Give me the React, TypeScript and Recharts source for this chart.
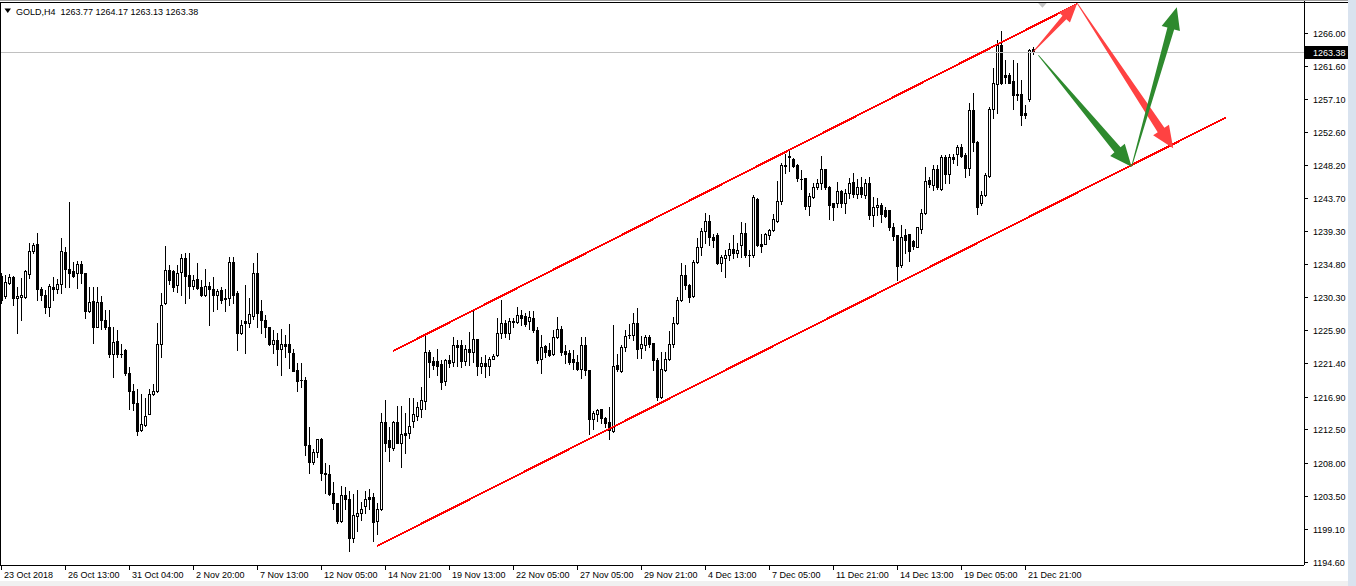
import React from 'react';
import { ComposedChart, Bar, XAxis, YAxis, ReferenceLine, ReferenceDot } from 'recharts';

// GOLD H4 candles: [open, high, low, close]
const ohlc: [number, number, number, number][] = [
  [1233.2, 1233.6, 1229.5, 1229.95], [1230.5, 1233.3, 1230.2, 1232.35], [1232.3, 1233.4, 1232.1, 1233.0], [1233.0, 1233.2, 1229.3, 1230.2],
  [1230.2, 1231.75, 1225.45, 1230.5], [1230.3, 1232.9, 1227.25, 1230.6], [1230.3, 1234.0, 1230.2, 1233.8], [1233.45, 1237.7, 1232.9, 1236.55],
  [1236.55, 1237.7, 1236.3, 1237.4], [1237.5, 1239.0, 1229.95, 1231.5], [1231.5, 1231.75, 1229.95, 1230.6], [1230.6, 1231.3, 1228.15, 1229.05],
  [1229.05, 1232.1, 1227.85, 1231.85], [1231.65, 1233.0, 1229.95, 1231.5], [1231.5, 1232.75, 1230.85, 1232.1], [1232.1, 1238.3, 1230.85, 1236.55],
  [1236.4, 1237.15, 1231.75, 1234.2], [1234.2, 1243.15, 1231.75, 1233.65], [1233.8, 1235.1, 1233.0, 1233.2], [1233.55, 1235.2, 1231.6, 1234.8],
  [1234.8, 1235.2, 1232.2, 1233.55], [1233.55, 1233.6, 1227.5, 1228.4], [1228.4, 1231.75, 1228.3, 1229.7], [1229.8, 1231.75, 1224.1, 1226.35],
  [1226.35, 1231.75, 1226.3, 1229.7], [1229.7, 1230.5, 1226.1, 1227.25], [1227.25, 1228.6, 1226.1, 1226.25], [1226.35, 1228.6, 1222.3, 1222.65],
  [1222.65, 1226.35, 1219.6, 1224.25], [1224.4, 1225.9, 1222.3, 1222.65], [1222.7, 1224.0, 1222.3, 1222.6], [1223.2, 1223.3, 1219.8, 1220.05],
  [1220.15, 1220.95, 1215.3, 1217.6], [1217.65, 1218.55, 1215.1, 1216.0], [1216.0, 1217.9, 1211.7, 1212.3], [1212.4, 1217.2, 1212.2, 1213.15],
  [1213.1, 1216.7, 1213.0, 1214.3], [1214.55, 1217.9, 1214.5, 1217.25], [1217.2, 1218.55, 1217.1, 1217.65], [1217.6, 1226.8, 1217.5, 1224.0],
  [1224.0, 1230.85, 1222.3, 1229.3], [1229.5, 1237.25, 1229.4, 1234.0], [1234.0, 1234.7, 1232.1, 1232.65], [1233.8, 1234.0, 1231.1, 1231.75],
  [1232.0, 1234.7, 1231.0, 1233.55], [1233.7, 1236.2, 1230.6, 1235.6], [1235.6, 1236.25, 1229.5, 1233.25], [1233.3, 1236.25, 1230.2, 1231.9],
  [1231.9, 1233.3, 1231.5, 1232.65], [1232.75, 1234.9, 1231.5, 1231.6], [1231.75, 1232.65, 1230.5, 1230.6], [1230.6, 1234.2, 1230.55, 1231.85],
  [1231.85, 1232.4, 1226.6, 1231.5], [1231.5, 1233.1, 1228.5, 1230.6], [1230.6, 1231.5, 1228.7, 1231.2], [1231.3, 1231.75, 1229.5, 1229.95],
  [1230.2, 1231.5, 1228.4, 1230.1], [1230.2, 1235.7, 1229.3, 1235.1], [1235.1, 1235.8, 1229.5, 1230.6], [1230.85, 1231.2, 1223.2, 1225.55],
  [1225.55, 1227.2, 1225.35, 1226.6], [1227.1, 1231.95, 1222.75, 1226.8], [1226.8, 1230.2, 1226.35, 1228.1], [1227.8, 1234.9, 1227.35, 1233.55],
  [1233.55, 1236.25, 1226.25, 1228.25], [1228.4, 1229.95, 1225.55, 1227.25], [1227.25, 1227.95, 1225.0, 1226.35], [1226.25, 1226.3, 1223.9, 1223.95],
  [1223.95, 1225.9, 1222.75, 1224.55], [1224.55, 1225.45, 1221.2, 1223.3], [1223.3, 1226.1, 1219.8, 1223.95], [1223.95, 1225.2, 1222.3, 1223.75],
  [1223.95, 1226.7, 1220.8, 1222.95], [1222.75, 1223.3, 1220.3, 1220.4], [1220.5, 1221.5, 1217.6, 1219.05], [1219.15, 1221.5, 1218.25, 1219.1],
  [1219.15, 1219.6, 1209.0, 1210.4], [1210.4, 1212.75, 1206.55, 1208.1], [1208.1, 1209.9, 1207.8, 1209.4], [1209.4, 1211.2, 1208.7, 1211.15],
  [1211.15, 1211.3, 1205.65, 1206.55], [1206.55, 1207.9, 1203.85, 1206.4], [1206.45, 1207.7, 1203.65, 1203.75], [1203.85, 1205.4, 1201.8, 1202.5],
  [1202.5, 1202.55, 1199.9, 1200.1], [1200.1, 1204.85, 1200.0, 1203.65], [1203.65, 1204.75, 1201.8, 1203.1], [1203.1, 1204.2, 1196.1, 1197.85],
  [1197.85, 1203.75, 1197.3, 1200.9], [1200.8, 1204.3, 1198.8, 1201.25], [1201.15, 1202.7, 1200.25, 1201.8], [1202.2, 1204.2, 1201.25, 1203.1],
  [1203.4, 1204.5, 1201.8, 1203.1], [1203.4, 1203.85, 1197.45, 1200.0], [1200.15, 1202.6, 1198.4, 1201.7], [1201.7, 1214.75, 1201.6, 1213.5],
  [1213.5, 1216.45, 1209.5, 1210.7], [1211.05, 1212.85, 1208.15, 1210.1], [1210.0, 1213.55, 1209.7, 1213.45], [1213.45, 1215.7, 1210.6, 1210.7],
  [1210.7, 1215.7, 1207.45, 1211.8], [1211.95, 1214.65, 1209.25, 1211.7], [1211.95, 1216.7, 1211.3, 1212.95], [1213.55, 1216.7, 1212.85, 1214.5],
  [1214.3, 1216.2, 1213.75, 1215.45], [1215.3, 1218.25, 1214.1, 1216.45], [1216.35, 1225.2, 1215.3, 1222.95], [1222.95, 1223.2, 1219.5, 1221.6],
  [1221.75, 1222.3, 1220.7, 1221.2], [1221.75, 1223.4, 1219.8, 1221.1], [1221.3, 1221.85, 1217.9, 1218.9], [1219.05, 1222.05, 1218.5, 1221.85],
  [1221.85, 1222.5, 1220.95, 1221.5], [1221.6, 1225.0, 1221.05, 1223.85], [1223.85, 1224.55, 1221.05, 1223.65], [1223.85, 1224.55, 1220.95, 1221.75],
  [1221.75, 1223.85, 1221.2, 1223.3], [1223.3, 1225.65, 1221.2, 1222.95], [1222.95, 1228.4, 1221.6, 1224.65], [1224.65, 1224.7, 1219.8, 1221.1],
  [1221.1, 1222.3, 1220.05, 1221.5], [1221.5, 1222.5, 1219.5, 1221.1], [1221.1, 1222.3, 1219.8, 1222.05], [1222.05, 1222.6, 1222.0, 1222.45],
  [1222.5, 1227.5, 1222.45, 1225.55], [1225.55, 1229.95, 1224.8, 1226.8], [1226.9, 1227.25, 1225.0, 1225.55], [1225.55, 1227.5, 1224.65, 1227.05],
  [1226.95, 1227.5, 1226.35, 1227.1], [1226.95, 1229.05, 1226.8, 1227.95], [1227.95, 1228.6, 1226.6, 1227.55], [1227.8, 1228.15, 1226.45, 1226.7],
  [1227.15, 1228.4, 1226.1, 1227.6], [1227.5, 1228.4, 1225.65, 1225.9], [1225.9, 1226.35, 1221.4, 1221.85], [1221.95, 1225.2, 1220.15, 1223.55],
  [1223.75, 1223.85, 1222.3, 1222.95], [1223.2, 1224.1, 1222.4, 1222.5], [1222.6, 1225.9, 1222.5, 1224.9], [1224.9, 1227.7, 1224.8, 1226.0],
  [1226.0, 1226.45, 1222.5, 1222.95], [1223.1, 1223.85, 1221.5, 1222.65], [1222.85, 1223.2, 1221.3, 1221.6], [1222.05, 1223.2, 1220.7, 1221.6],
  [1221.6, 1222.5, 1220.5, 1220.6], [1220.6, 1225.0, 1219.4, 1223.85], [1223.85, 1225.0, 1219.8, 1220.5], [1220.5, 1220.55, 1211.85, 1213.85],
  [1213.85, 1214.9, 1212.5, 1214.65], [1214.55, 1215.3, 1213.65, 1215.1], [1215.2, 1215.3, 1213.3, 1214.0], [1214.0, 1214.2, 1212.85, 1213.4],
  [1213.5, 1215.45, 1211.15, 1212.4], [1212.2, 1226.6, 1212.1, 1221.05], [1221.2, 1222.65, 1220.4, 1220.6], [1220.3, 1223.9, 1220.2, 1223.55],
  [1223.55, 1225.9, 1223.1, 1225.15], [1225.2, 1226.7, 1224.8, 1225.25], [1225.2, 1228.15, 1224.55, 1226.8], [1226.8, 1228.9, 1222.1, 1223.3],
  [1223.45, 1225.1, 1222.1, 1223.95], [1223.9, 1225.2, 1223.2, 1225.0], [1225.0, 1225.2, 1223.65, 1223.95], [1224.1, 1224.2, 1220.5, 1221.85],
  [1221.85, 1222.1, 1216.45, 1216.9], [1216.9, 1222.95, 1216.7, 1220.6], [1220.5, 1222.95, 1220.3, 1221.95], [1221.95, 1225.75, 1221.85, 1223.95],
  [1223.95, 1227.6, 1223.65, 1226.8], [1226.8, 1230.4, 1226.7, 1229.95], [1229.95, 1234.9, 1229.85, 1233.3], [1233.3, 1234.7, 1231.5, 1231.95],
  [1231.95, 1232.05, 1229.7, 1230.3], [1230.55, 1235.35, 1230.4, 1235.05], [1235.05, 1238.3, 1234.9, 1237.05], [1237.05, 1239.65, 1236.05, 1239.2],
  [1239.2, 1241.75, 1237.6, 1240.6], [1240.6, 1241.4, 1237.4, 1238.4], [1238.5, 1238.8, 1237.15, 1238.05], [1238.75, 1238.95, 1234.8, 1234.9],
  [1234.9, 1236.05, 1233.9, 1235.7], [1235.6, 1236.7, 1233.1, 1236.05], [1236.05, 1237.6, 1235.35, 1236.8], [1236.8, 1238.7, 1235.6, 1236.35],
  [1236.35, 1237.6, 1235.8, 1236.7], [1237.4, 1240.5, 1235.8, 1238.95], [1238.95, 1240.3, 1235.8, 1236.05], [1236.05, 1236.7, 1234.55, 1236.0],
  [1236.0, 1244.1, 1235.8, 1243.8], [1243.6, 1243.7, 1237.25, 1237.4], [1237.5, 1238.8, 1236.4, 1237.3], [1237.5, 1238.95, 1237.45, 1238.9],
  [1238.7, 1239.6, 1238.15, 1239.4], [1239.4, 1241.6, 1239.3, 1240.85], [1240.65, 1246.05, 1240.5, 1243.35], [1243.35, 1248.4, 1242.9, 1248.2],
  [1248.2, 1249.65, 1247.05, 1248.1], [1249.45, 1250.1, 1247.4, 1249.3], [1248.95, 1249.1, 1247.95, 1248.05], [1248.2, 1248.25, 1245.95, 1246.4],
  [1246.35, 1247.5, 1245.0, 1246.25], [1246.4, 1246.45, 1242.2, 1242.65], [1242.65, 1244.35, 1241.4, 1244.0], [1243.9, 1245.7, 1243.7, 1245.15],
  [1245.15, 1246.25, 1244.9, 1245.8], [1245.7, 1249.4, 1245.0, 1247.6], [1247.6, 1247.7, 1245.0, 1245.25], [1245.25, 1245.3, 1240.95, 1242.8],
  [1243.0, 1243.1, 1240.75, 1242.55], [1243.0, 1245.9, 1242.55, 1244.65], [1244.65, 1244.8, 1242.55, 1243.0], [1243.0, 1245.0, 1241.75, 1244.45],
  [1244.35, 1246.4, 1243.7, 1245.8], [1245.9, 1247.05, 1243.9, 1244.25], [1244.25, 1246.25, 1243.7, 1245.25], [1245.25, 1246.6, 1243.9, 1244.25],
  [1244.1, 1246.25, 1243.7, 1245.8], [1245.8, 1246.6, 1240.95, 1241.45], [1241.45, 1243.9, 1239.95, 1242.55], [1242.45, 1243.7, 1241.45, 1242.8],
  [1242.8, 1243.0, 1240.5, 1241.6], [1242.1, 1242.55, 1241.1, 1241.3], [1242.1, 1242.15, 1239.4, 1239.75], [1239.75, 1240.3, 1238.05, 1238.6],
  [1238.7, 1238.75, 1232.65, 1234.55], [1234.7, 1240.1, 1234.45, 1238.5], [1238.7, 1239.5, 1236.25, 1238.05], [1238.8, 1238.85, 1235.25, 1236.5],
  [1237.85, 1238.05, 1236.9, 1237.3], [1237.15, 1239.85, 1237.1, 1239.75], [1239.6, 1242.3, 1239.05, 1241.65], [1241.65, 1247.95, 1241.6, 1246.0],
  [1246.15, 1246.6, 1245.25, 1245.55], [1245.45, 1248.2, 1244.8, 1247.7], [1247.7, 1248.2, 1245.0, 1245.25], [1245.0, 1249.5, 1244.8, 1249.3],
  [1249.3, 1249.5, 1245.7, 1246.9], [1246.9, 1249.65, 1245.7, 1249.3], [1249.3, 1249.65, 1248.4, 1248.95], [1249.65, 1250.9, 1248.2, 1250.65],
  [1250.65, 1251.0, 1249.3, 1249.4], [1249.5, 1249.75, 1246.5, 1247.75], [1247.75, 1256.5, 1246.8, 1255.6], [1255.6, 1257.95, 1250.0, 1251.3],
  [1251.3, 1251.35, 1241.5, 1242.55], [1243.0, 1244.6, 1242.8, 1244.1], [1244.1, 1247.05, 1244.0, 1246.8], [1246.7, 1255.95, 1246.6, 1255.7],
  [1255.7, 1261.25, 1254.5, 1259.2], [1259.1, 1265.05, 1255.15, 1264.4], [1264.4, 1266.2, 1259.1, 1259.2], [1260.35, 1262.35, 1259.2, 1260.1],
  [1260.35, 1260.55, 1259.2, 1259.3], [1259.45, 1262.35, 1255.8, 1257.65], [1257.7, 1261.95, 1256.95, 1257.6], [1257.75, 1259.65, 1253.55, 1254.9],
  [1255.15, 1256.3, 1254.5, 1254.95], [1257.1, 1263.9, 1256.75, 1263.7], [1263.77, 1264.17, 1263.13, 1263.38],
];

const timeLabels = [
  '23 Oct 2018', '26 Oct 13:00', '31 Oct 04:00', '2 Nov 20:00', '7 Nov 13:00', '12 Nov 05:00', '14 Nov 21:00',
  '19 Nov 13:00', '22 Nov 05:00', '27 Nov 05:00', '29 Nov 21:00', '4 Dec 13:00', '7 Dec 05:00', '11 Dec 21:00',
  '14 Dec 13:00', '19 Dec 05:00', '21 Dec 21:00',
];
const barsPerLabel = 16;

const priceTicks = [
  1266.0, 1261.6, 1257.1, 1252.6, 1248.2, 1243.7, 1239.3, 1234.8, 1230.3,
  1225.9, 1221.4, 1216.9, 1212.5, 1208.0, 1203.5, 1199.1, 1194.6,
];

const headerText = 'GOLD,H4  1263.77 1264.17 1263.13 1263.38';
const lastPrice = 1263.38;

// channel lines: [bar index, price]
const upperChannel: [number, number][] = [[97.8, 1223.07], [268.75, 1269.91]];
const lowerChannel: [number, number][] = [[93.8, 1196.74], [306.0, 1254.6]];

// forecast arrows
const arrowFrom: [number, number][] = [[257.8, 1263.47], [268.8, 1270.0], [259.1, 1263.0], [282.4, 1247.95]];
const arrowTo: [number, number][] = [[268.8, 1270.0], [292.8, 1250.43], [282.4, 1247.95], [293.7, 1269.46]];
const arrowColor = ['#ff4242', '#ff4242', '#2e8a2e', '#2e8a2e'];
const arrowSize = [
  { head: 19, half: 7.5, neck: 2.6 },
  { head: 22, half: 9.5, neck: 4 },
  { head: 22, half: 9.5, neck: 4 },
  { head: 22, half: 9.5, neck: 3.5 },
];

const TOTAL_SLOTS = 326;
const PRICE_MIN = 1194.175;
const PRICE_MAX = 1270.45;

const data = Array.from({ length: TOTAL_SLOTS }, (_, i) => {
  const c = ohlc[i];
  return c
    ? { i, o: c[0], h: c[1], l: c[2], c: c[3], range: [c[2], c[1]] }
    : { i, o: null, h: null, l: null, c: null, range: null };
});

const timeTicks = timeLabels.map((_, k) => k * barsPerLabel);
const FONT = '"Liberation Sans", Arial, sans-serif';

const Candle = (props: any) => {
  let { x, y, width, height, payload } = props;
  if (!payload || payload.o == null || !isFinite(y) || !isFinite(x)) return <g />;
  const { o, h, l, c } = payload;
  if (height < 0) { y += height; height = -height; }
  const span = h - l;
  const toY = (v: number) => (span > 0 ? y + ((h - v) / span) * height : y);
  const wc = Math.round(x + width / 2 - 1);
  const yH = Math.round(y);
  const yL = Math.round(y + height);
  const yO = Math.round(toY(o));
  const yC = Math.round(toY(c));
  const top = Math.min(yO, yC);
  const bot = Math.max(yO, yC);
  const bull = c >= o;
  return (
    <g>
      <rect x={wc} y={yH} width={1} height={Math.max(1, yL - yH + 1)} fill="#000" />
      <rect x={wc - 1} y={top} width={3} height={bot - top + 1} fill="#000" />
      {bull && bot - top >= 2 && <rect x={wc} y={top + 1} width={1} height={bot - top - 1} fill="#fff" />}
    </g>
  );
};

const TimeTick = (props: any) => {
  const { x, y, payload } = props;
  const label = timeLabels[Math.round(payload.value / barsPerLabel)];
  const tx = Math.round(x) - 0.5;
  return (
    <g>
      <line x1={tx} x2={tx} y1={y} y2={y + 5} stroke="#000" strokeWidth={1} />
      <text x={tx + 2.5} y={y + 13} fontSize={9} fontFamily={FONT} fill="#000">{label}</text>
    </g>
  );
};

const PriceTick = (props: any) => {
  const { x, y, payload } = props;
  const ty = Math.round(y) + 0.5;
  return (
    <g>
      <line x1={x} x2={x + 4} y1={ty} y2={ty} stroke="#000" strokeWidth={1} />
      <text x={x + 9} y={ty} dy="0.35em" fontSize={9} fontFamily={FONT} fill="#000">
        {Number(payload.value).toFixed(2)}
      </text>
    </g>
  );
};

const LastPriceLabel = (props: any) => {
  const vb = props.viewBox || {};
  const x = (vb.x || 0) + (vb.width || 0);
  const y = Math.round(vb.y || 0);
  return (
    <g>
      <rect x={x + 1} y={y - 6} width={43} height={13} fill="#000" />
      <text x={x + 9} y={y + 0.5} dy="0.35em" fontSize={9} fontFamily={FONT} fill="#fff">
        {lastPrice.toFixed(2)}
      </text>
    </g>
  );
};

const renderArrow = (p: any, k: number) => {
  const { x1, y1, x2, y2 } = p;
  if (![x1, y1, x2, y2].every((v) => isFinite(v))) return <g />;
  const s = arrowSize[k];
  const dx = x2 - x1;
  const dy = y2 - y1;
  const len = Math.sqrt(dx * dx + dy * dy) || 1;
  const ux = dx / len;
  const uy = dy / len;
  const nx = -uy;
  const ny = ux;
  const bx = x2 - ux * s.head;
  const by = y2 - uy * s.head;
  const tail = 0.4;
  const pts = [
    [x1 + nx * tail, y1 + ny * tail],
    [bx + nx * s.neck, by + ny * s.neck],
    [bx + nx * s.half, by + ny * s.half],
    [x2, y2],
    [bx - nx * s.half, by - ny * s.half],
    [bx - nx * s.neck, by - ny * s.neck],
    [x1 - nx * tail, y1 - ny * tail],
  ];
  return <polygon points={pts.map((q) => q.join(',')).join(' ')} fill={arrowColor[k]} />;
};

export default function App() {
  return (
    <div style={{ position: 'absolute', left: 0, top: 0, width: 1356, height: 586, background: '#fff', overflow: 'hidden' }}>
      <ComposedChart
        width={1356}
        height={586}
        data={data}
        margin={{ top: 0, right: 0, bottom: 0, left: 0 }}
        barCategoryGap={0}
        barGap={0}
      >
        <XAxis
          dataKey="i"
          type="category"
          ticks={timeTicks}
          interval={0}
          tick={<TimeTick />}
          tickLine={false}
          tickSize={0}
          tickMargin={0}
          height={21}
          axisLine={{ stroke: '#000', shapeRendering: 'crispEdges' }}
        />
        <XAxis xAxisId="n" dataKey="i" type="number" domain={[-0.5, TOTAL_SLOTS - 0.5]} allowDataOverflow hide />
        <YAxis
          orientation="right"
          type="number"
          domain={[PRICE_MIN, PRICE_MAX]}
          allowDataOverflow
          ticks={priceTicks}
          interval={0}
          tick={<PriceTick />}
          tickLine={false}
          tickSize={0}
          tickMargin={0}
          width={52}
          axisLine={{ stroke: '#000', shapeRendering: 'crispEdges' }}
        />
        <ReferenceLine y={lastPrice} stroke="#c0c0c0" shapeRendering="crispEdges" label={<LastPriceLabel />} ifOverflow="visible" />
        <Bar dataKey="range" shape={(p: any) => <Candle {...p} />} isAnimationActive={false} />
        <ReferenceLine
          xAxisId="n"
          segment={upperChannel.map(([x, y]) => ({ x, y }))}
          stroke="#ff0000"
          strokeWidth={2}
          shapeRendering="crispEdges"
          ifOverflow="visible"
        />
        <ReferenceLine
          xAxisId="n"
          segment={lowerChannel.map(([x, y]) => ({ x, y }))}
          stroke="#ff0000"
          strokeWidth={2}
          shapeRendering="crispEdges"
          ifOverflow="visible"
        />
        {arrowFrom.map((f, k) => (
          <ReferenceLine
            key={'a' + k}
            xAxisId="n"
            segment={[{ x: f[0], y: f[1] }, { x: arrowTo[k][0], y: arrowTo[k][1] }]}
            ifOverflow="visible"
            shape={(p: any) => renderArrow(p, k)}
          />
        ))}
        <ReferenceDot
          xAxisId="n"
          x={260.1}
          y={1269.8}
          ifOverflow="visible"
          shape={(p: any) => (
            <polygon
              points={`${p.cx - 4.5},${p.cy - 2} ${p.cx + 4.5},${p.cy - 2} ${p.cx},${p.cy + 3}`}
              fill="#c4c4c4"
            />
          )}
        />
      </ComposedChart>
      {/* frame */}
      <div style={{ position: 'absolute', left: 0, top: 0, width: 1348, height: 1, background: '#a0a0a0' }} />
      <div style={{ position: 'absolute', left: 0, top: 2, width: 1348, height: 1, background: '#000' }} />
      <div style={{ position: 'absolute', left: 0, top: 2, width: 1, height: 563, background: '#000' }} />
      <div style={{ position: 'absolute', left: 1348, top: 0, width: 8, height: 586, background: '#d9e3ef' }} />
      <div style={{ position: 'absolute', left: 0, top: 581, width: 1348, height: 5, background: '#f0f0f0' }} />
      {/* header */}
      <svg style={{ position: 'absolute', left: 4, top: 8 }} width={8} height={6}>
        <polygon points="0.5,0.5 7,0.5 3.75,5" fill="#000" />
      </svg>
      <div
        style={{
          position: 'absolute',
          left: 16,
          top: 6,
          fontFamily: FONT,
          fontSize: 9,
          lineHeight: '12px',
          color: '#000',
          whiteSpace: 'pre',
        }}
      >
        {headerText}
      </div>
    </div>
  );
}
